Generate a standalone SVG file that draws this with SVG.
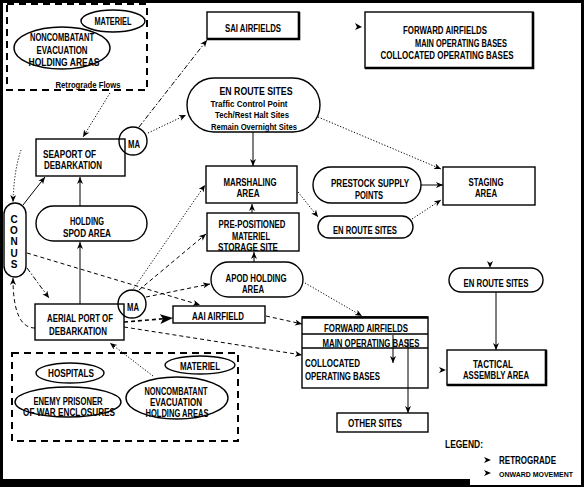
<svg xmlns="http://www.w3.org/2000/svg" width="584" height="487" viewBox="0 0 584 487">
<style>
.t{font-family:"Liberation Sans",Arial,sans-serif;font-size:10px;font-weight:bold;fill:#000}
.s{font-size:9.5px}
.m{text-anchor:middle}
.n{fill:#fff;stroke:#000;stroke-width:1.4}
.c{fill:none;stroke:#000;stroke-width:1.4}
.grp{fill:none;stroke:#000;stroke-width:2;stroke-dasharray:7 5}
.l{fill:none;stroke:#000;stroke-width:1;marker-end:url(#ah)}
.dot{stroke-dasharray:1.2 1.8}
.dash{stroke-dasharray:4 3}
.dd{stroke-dasharray:5 2 1.5 2}
.sh{fill:none;stroke:#000;stroke-width:2.6}
.ah{fill:#000}
</style>
<defs>
<marker id="ah" markerUnits="userSpaceOnUse" markerWidth="8" markerHeight="7" refX="7" refY="3" orient="auto"><path d="M0,0 L7,3 L0,6 L2,3 z" fill="#000"/></marker>
<marker id="big" markerUnits="userSpaceOnUse" markerWidth="14" markerHeight="10" refX="13" refY="5" orient="auto"><path d="M0,0 L13,5 L0,10 L3,5 z" fill="#000"/></marker>
</defs>
<rect width="584" height="487" fill="#000"/>
<rect x="3" y="3" width="578" height="476" fill="#fff"/>
<rect x="470" y="468" width="111" height="17" fill="#fff"/>

<g id="connectors">
<path class="l dot" d="M110,93 L83,137"/>
<path class="l dd" d="M139,127 L207,40"/>
<path class="l dot" d="M148,133 L186,115"/>
<path class="l" d="M253,132 L253,166"/>
<path class="l dot" d="M318,117 L441,169"/>
<path class="l" d="M421,185 L443,185"/>
<path class="l dot" d="M412,219 L441,200"/>
<path class="l dot" d="M298,192 L318,217"/>
<path class="l" d="M252,213 L252,204"/>
<path class="l" d="M254,262 L254,252"/>
<path class="l" d="M80,206 L80,177"/>
<path class="l" d="M80,304 L80,242"/>
<path class="l" d="M23,205 L45,177"/>
<path class="l dd" d="M27,268 L49,298"/>
<path class="l dash" d="M27,253 L200,305"/>
<path class="l dot" d="M21,150 Q14,170 13,202"/>
<path class="l dash" d="M35,328 Q13,328 13,278"/>
<path class="l dot" d="M132,291 L205,185"/>
<path class="l dash" d="M139,290 L206,234"/>
<path class="l dash" d="M146,297 L210,284"/>
<path class="l dash" d="M124,322 L173,318" style="stroke-width:1.6;marker-end:url(#big)"/>
<path class="l dash" d="M266,316 L302,324"/>
<path class="l dash" d="M124,327 L302,355"/>
<path class="l dot" d="M305,283 L362,316"/>
<path class="l dot" d="M153,376 L110,343"/>
<path class="l" d="M496,292 L496,350"/>
<path class="l" d="M393,335 L393,363"/>
<path class="l" d="M408,339 L408,413"/>
<path class="ah" d="M355,23 L362,27 L355,30 L357,27 z"/>
<path class="ah" d="M318,181 L325,184 L318,187 L320,184 z"/>
<path class="ah" d="M487,261 L490,268 L493,261 L490,263 z"/>
<path class="ah" d="M439,367 L446,370 L439,373 L441,370 z"/>
</g>

<g id="retro-top">
<rect class="grp" x="7" y="4" width="140" height="86"/>
<ellipse class="c" cx="113" cy="21" rx="32" ry="11"/>
<text class="t m" x="113" y="24.5" textLength="37" lengthAdjust="spacingAndGlyphs">MATERIEL</text>
<ellipse class="c" cx="62" cy="48" rx="48" ry="21"/>
<text class="t m" x="62" y="41" textLength="64" lengthAdjust="spacingAndGlyphs">NONCOMBATANT</text>
<text class="t m" x="62" y="54" textLength="51" lengthAdjust="spacingAndGlyphs">EVACUATION</text>
<text class="t m" x="64" y="66" textLength="71" lengthAdjust="spacingAndGlyphs">HOLDING AREAS</text>
<text class="t m s" x="88" y="88" textLength="65" lengthAdjust="spacingAndGlyphs">Retrograde Flows</text>
</g>

<g id="sai">
<rect class="n" x="207" y="12" width="92" height="27"/>
<path class="sh" d="M299,12 L299,39 L207,39"/>
<text class="t m" x="253" y="31.5" textLength="56" lengthAdjust="spacingAndGlyphs">SAI AIRFIELDS</text>
</g>

<g id="fwd-top">
<rect class="n" x="365" y="12" width="168" height="56"/>
<path class="sh" d="M533,12 L533,68 L365,68"/>
<text class="t m" x="445" y="33.5" textLength="84" lengthAdjust="spacingAndGlyphs">FORWARD AIRFIELDS</text>
<text class="t m" x="461" y="46.5" textLength="92" lengthAdjust="spacingAndGlyphs">MAIN OPERATING BASES</text>
<text class="t m" x="447" y="58.5" textLength="133" lengthAdjust="spacingAndGlyphs">COLLOCATED OPERATING BASES</text>
</g>

<g id="enroute-1">
<rect class="n" x="187" y="78" width="133" height="54" rx="27"/>
<text class="t m" x="256" y="94.5" textLength="73" lengthAdjust="spacingAndGlyphs">EN ROUTE SITES</text>
<text class="t m s" x="249" y="106.5" textLength="77" lengthAdjust="spacingAndGlyphs">Traffic Control Point</text>
<text class="t m s" x="252" y="117.5" textLength="74" lengthAdjust="spacingAndGlyphs">Tech/Rest Halt Sites</text>
<text class="t m s" x="254" y="129.5" textLength="86" lengthAdjust="spacingAndGlyphs">Remain Overnight Sites</text>
</g>

<g id="seaport">
<rect class="n" x="36" y="139" width="89" height="37"/>
<text class="t" x="43" y="158" textLength="53" lengthAdjust="spacingAndGlyphs">SEAPORT OF</text>
<text class="t" x="44" y="169" textLength="58" lengthAdjust="spacingAndGlyphs">DEBARKATION</text>
</g>

<g id="ma-1">
<circle class="c" cx="133" cy="141" r="14"/>
<text class="t m" x="134" y="147.5" textLength="12" lengthAdjust="spacingAndGlyphs">MA</text>
</g>

<g id="conus">
<rect class="n" x="4" y="203" width="22" height="74" rx="11"/>
<text class="t m" x="14" y="222.5">C</text>
<text class="t m" x="14" y="233.5">O</text>
<text class="t m" x="14" y="244.5">N</text>
<text class="t m" x="14" y="256.5">U</text>
<text class="t m" x="14" y="267.5">S</text>
</g>

<g id="holding-spod">
<rect class="n" x="36" y="206" width="111" height="35" rx="17.5"/>
<text class="t m" x="87" y="224.5" textLength="34" lengthAdjust="spacingAndGlyphs">HOLDING</text>
<text class="t m" x="87" y="236.5" textLength="48" lengthAdjust="spacingAndGlyphs">SPOD AREA</text>
</g>

<g id="aerial">
<rect class="n" x="35" y="304" width="89" height="36"/>
<text class="t m" x="80" y="321.5" textLength="66" lengthAdjust="spacingAndGlyphs">AERIAL PORT OF</text>
<text class="t m" x="78" y="334.5" textLength="58" lengthAdjust="spacingAndGlyphs">DEBARKATION</text>
</g>

<g id="ma-2">
<circle class="c" cx="132" cy="304" r="14"/>
<text class="t m" x="133" y="310.5" textLength="12" lengthAdjust="spacingAndGlyphs">MA</text>
</g>

<g id="marshaling">
<rect class="n" x="206" y="166" width="91" height="37"/>
<text class="t m" x="250" y="185.5" textLength="53" lengthAdjust="spacingAndGlyphs">MARSHALING</text>
<text class="t m" x="248" y="196.5" textLength="23" lengthAdjust="spacingAndGlyphs">AREA</text>
</g>

<g id="prepositioned">
<rect class="n" x="207" y="213" width="92" height="38"/>
<text class="t m" x="252" y="227.5" textLength="67" lengthAdjust="spacingAndGlyphs">PRE-POSITIONED</text>
<text class="t m" x="251" y="239.5" textLength="38" lengthAdjust="spacingAndGlyphs">MATERIEL</text>
<text class="t m" x="248" y="250.5" textLength="60" lengthAdjust="spacingAndGlyphs">STORAGE SITE</text>
</g>

<g id="prestock">
<rect class="n" x="313" y="167" width="108" height="36" rx="18"/>
<text class="t m" x="370" y="186.5" textLength="78" lengthAdjust="spacingAndGlyphs">PRESTOCK SUPPLY</text>
<text class="t m" x="369" y="198.5" textLength="28" lengthAdjust="spacingAndGlyphs">POINTS</text>
</g>

<g id="enroute-2">
<rect class="n" x="318" y="216" width="95" height="22" rx="11"/>
<text class="t m" x="365" y="233.5" textLength="64" lengthAdjust="spacingAndGlyphs">EN ROUTE SITES</text>
</g>

<g id="staging">
<rect class="n" x="443" y="167" width="92" height="38"/>
<text class="t m" x="486" y="185.5" textLength="35" lengthAdjust="spacingAndGlyphs">STAGING</text>
<text class="t m" x="486" y="196.5" textLength="22" lengthAdjust="spacingAndGlyphs">AREA</text>
</g>

<g id="apod-holding">
<rect class="n" x="211" y="262" width="92" height="35" rx="17.5"/>
<text class="t m" x="256" y="281.5" textLength="61" lengthAdjust="spacingAndGlyphs">APOD HOLDING</text>
<text class="t m" x="253" y="292.5" textLength="22" lengthAdjust="spacingAndGlyphs">AREA</text>
</g>

<g id="enroute-3">
<rect class="n" x="449" y="268" width="94" height="24" rx="12"/>
<text class="t m" x="496" y="286.5" textLength="65" lengthAdjust="spacingAndGlyphs">EN ROUTE SITES</text>
</g>

<g id="aai">
<rect class="n" x="173" y="306" width="92" height="17"/>
<text class="t m" x="218" y="320" textLength="52" lengthAdjust="spacingAndGlyphs">AAI AIRFIELD</text>
</g>

<g id="fwd-mid">
<rect class="c" x="302" y="317" width="126" height="71"/>
<path class="c" d="M302,317.5 L428,317.5" style="stroke-width:2.4"/>
<path class="c" d="M302,334 L428,334 M302,348 L428,348"/>
<text class="t m" x="366" y="332" textLength="84" lengthAdjust="spacingAndGlyphs">FORWARD AIRFIELDS</text>
<text class="t m" x="371" y="346.5" textLength="97" lengthAdjust="spacingAndGlyphs">MAIN OPERATING BASES</text>
<text class="t" x="305" y="366.5" textLength="55" lengthAdjust="spacingAndGlyphs">COLLOCATED</text>
<text class="t" x="305" y="379.5" textLength="75" lengthAdjust="spacingAndGlyphs">OPERATING BASES</text>
</g>

<g id="other-sites">
<rect class="n" x="337" y="413" width="91" height="19"/>
<text class="t m" x="375" y="427" textLength="54" lengthAdjust="spacingAndGlyphs">OTHER SITES</text>
</g>

<g id="tactical">
<rect class="n" x="447" y="350" width="99" height="35"/>
<path class="sh" d="M546,350 L546,385 L447,385"/>
<text class="t m" x="493" y="367.5" textLength="40" lengthAdjust="spacingAndGlyphs">TACTICAL</text>
<text class="t m" x="496" y="378.5" textLength="66" lengthAdjust="spacingAndGlyphs">ASSEMBLY AREA</text>
</g>

<g id="retro-bottom">
<rect class="grp" x="12" y="353" width="226" height="88"/>
<ellipse class="c" cx="70" cy="373" rx="34" ry="10"/>
<text class="t m" x="71" y="376.5" textLength="46" lengthAdjust="spacingAndGlyphs">HOSPITALS</text>
<ellipse class="c" cx="68" cy="402" rx="53" ry="15"/>
<text class="t m" x="68" y="405" textLength="69" lengthAdjust="spacingAndGlyphs">ENEMY PRISONER</text>
<text class="t m" x="69" y="416" textLength="92" lengthAdjust="spacingAndGlyphs">OF WAR ENCLOSURES</text>
<ellipse class="c" cx="200" cy="365" rx="35" ry="9"/>
<text class="t m" x="200" y="369.5" textLength="40" lengthAdjust="spacingAndGlyphs">MATERIEL</text>
<ellipse class="c" cx="177" cy="398" rx="51" ry="21"/>
<text class="t m" x="176" y="395" textLength="63" lengthAdjust="spacingAndGlyphs">NONCOMBATANT</text>
<text class="t m" x="176" y="406" textLength="52" lengthAdjust="spacingAndGlyphs">EVACUATION</text>
<text class="t m" x="177" y="417" textLength="63" lengthAdjust="spacingAndGlyphs">HOLDING AREAS</text>
</g>

<g id="legend">
<text class="t" x="445" y="448" textLength="38" lengthAdjust="spacingAndGlyphs">LEGEND:</text>
<path class="ah" d="M484,457 L491,460 L484,463 L486,460 z"/>
<text class="t" x="499" y="463.5" textLength="57" lengthAdjust="spacingAndGlyphs">RETROGRADE</text>
<path class="ah" d="M484,470 L491,473 L484,476 L486,473 z"/>
<text class="t" x="499" y="476.5" style="font-size:7.5px" textLength="74" lengthAdjust="spacingAndGlyphs">ONWARD MOVEMENT</text>
</g>
</svg>
